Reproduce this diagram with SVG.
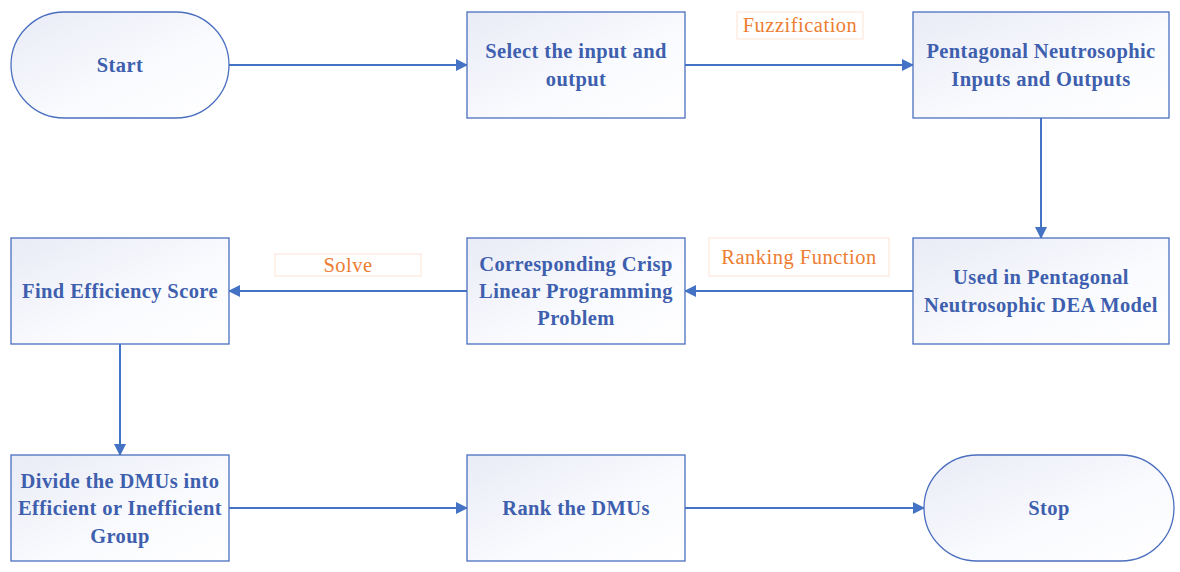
<svg xmlns="http://www.w3.org/2000/svg" width="1180" height="572" viewBox="0 0 1180 572">
<defs>
<linearGradient id="g" x1="0" y1="0" x2="1" y2="1">
<stop offset="0" stop-color="#E9EBF6"/>
<stop offset="0.6" stop-color="#FAFBFE"/>
<stop offset="1" stop-color="#FFFFFF"/>
</linearGradient>
<marker id="arr" markerWidth="12" markerHeight="12" refX="11" refY="6" orient="auto" markerUnits="userSpaceOnUse" viewBox="0 0 12 12">
<path d="M0,0 L12,6 L0,12 z" fill="#4472C4"/>
</marker>
<style>
.n{fill:url(#g);stroke:#4A6FBF;stroke-width:1.3}
.t{font-family:"Liberation Serif",serif;font-weight:bold;font-size:20.5px;letter-spacing:0.4px;fill:#3E5FAE;text-anchor:middle}
.l{font-family:"Liberation Serif",serif;font-size:20.5px;letter-spacing:0.5px;fill:#ED7D31;text-anchor:middle}
.lb{fill:#FFFFFF;stroke:#FBE3D6;stroke-width:1}
.c{stroke:#4472C4;stroke-width:2;fill:none;marker-end:url(#arr)}
</style>
</defs>
<rect width="1180" height="572" fill="#FFFFFF"/>
<g id="connectors">
<line class="c" x1="229" y1="65" x2="467" y2="65"/>
<line class="c" x1="685" y1="65" x2="913" y2="65"/>
<line class="c" x1="1041" y1="118" x2="1041" y2="238"/>
<line class="c" x1="913" y1="291" x2="685" y2="291"/>
<line class="c" x1="467" y1="291" x2="229" y2="291"/>
<line class="c" x1="120" y1="344" x2="120" y2="455"/>
<line class="c" x1="229" y1="508" x2="467" y2="508"/>
<line class="c" x1="685" y1="508" x2="924" y2="508"/>
</g>
<g id="label-fuzzification">
<rect class="lb" x="737" y="12" width="126" height="27"/>
<text class="l" x="800" y="32">Fuzzification</text>
</g>
<g id="label-solve">
<rect class="lb" x="275" y="254" width="146" height="22"/>
<text class="l" x="348" y="272">Solve</text>
</g>
<g id="label-ranking">
<rect class="lb" x="709" y="238" width="180" height="38"/>
<text class="l" x="799" y="264">Ranking Function</text>
</g>
<g id="start">
<rect class="n" x="11" y="12" width="218" height="106" rx="53" ry="53"/>
<text class="t" x="120" y="72">Start</text>
</g>
<g id="select">
<rect class="n" x="467" y="12" width="218" height="106"/>
<text class="t" x="576" y="58">Select the input and</text>
<text class="t" x="576" y="86">output</text>
</g>
<g id="pentagonal">
<rect class="n" x="913" y="12" width="256" height="106"/>
<text class="t" x="1041" y="58">Pentagonal Neutrosophic</text>
<text class="t" x="1041" y="86">Inputs and Outputs</text>
</g>
<g id="used">
<rect class="n" x="913" y="238" width="256" height="106"/>
<text class="t" x="1041" y="284">Used in Pentagonal</text>
<text class="t" x="1041" y="312">Neutrosophic DEA Model</text>
</g>
<g id="corresponding">
<rect class="n" x="467" y="238" width="218" height="106"/>
<text class="t" x="576" y="271">Corresponding Crisp</text>
<text class="t" x="576" y="298">Linear Programming</text>
<text class="t" x="576" y="325">Problem</text>
</g>
<g id="find">
<rect class="n" x="11" y="238" width="218" height="106"/>
<text class="t" x="120" y="298">Find Efficiency Score</text>
</g>
<g id="divide">
<rect class="n" x="11" y="455" width="218" height="106"/>
<text class="t" x="120" y="488">Divide the DMUs into</text>
<text class="t" x="120" y="515">Efficient or Inefficient</text>
<text class="t" x="120" y="543">Group</text>
</g>
<g id="rank">
<rect class="n" x="467" y="455" width="218" height="106"/>
<text class="t" x="576" y="515">Rank the DMUs</text>
</g>
<g id="stop">
<rect class="n" x="924" y="455" width="250" height="106" rx="53" ry="53"/>
<text class="t" x="1049" y="515">Stop</text>
</g>
</svg>
